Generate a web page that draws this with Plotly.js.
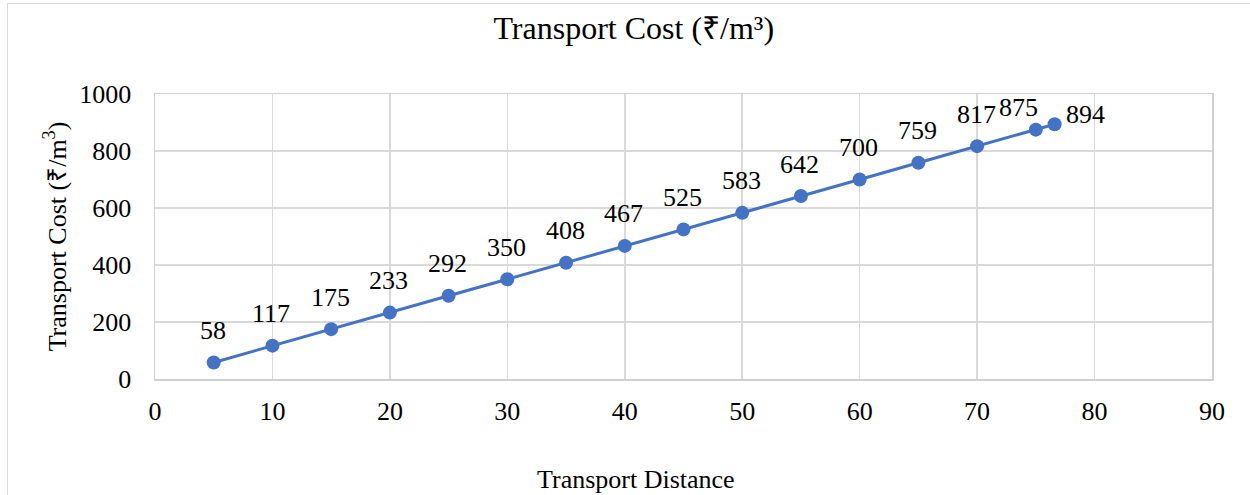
<!DOCTYPE html>
<html>
<head>
<meta charset="utf-8">
<script src="https://cdn.plot.ly/plotly-3.0.1.min.js"></script>
<style>
html,body{margin:0;padding:0;background:#fff;}
#chart{position:absolute;left:0;top:0;width:1250px;height:495px;}
#frame{position:absolute;left:7px;top:3px;width:1260px;height:520px;border:1.5px solid #d9d9d9;pointer-events:none;}
</style>
</head>
<body>
<div id="chart"></div>
<div id="frame"></div>
<script>
const distance = [5, 10, 15, 20, 25, 30, 35, 40, 45, 50, 55, 60, 65, 70, 75, 76.6];
const cost = [58, 117, 175, 233, 292, 350, 408, 467, 525, 583, 642, 700, 759, 817, 875, 894];
const chartTitle = 'Transport Cost (₹/m³)';
const xTitle = 'Transport Distance';
const yTitle = 'Transport Cost (₹/m<sup>3</sup>)';

const font = 'Liberation Serif, Times New Roman, serif';

const trace = {
  x: distance,
  y: cost,
  type: 'scatter',
  mode: 'lines+markers',
  line: {color: '#4472C4', width: 3},
  marker: {color: '#4472C4', size: 14},
  cliponaxis: false,
  hoverinfo: 'x+y'
};

const last = distance.length - 1;
const annotations = distance.map((d, i) => {
  let xs = -1, ys = 32, xa = 'center';
  if (i === last) { xs = 9; ys = 10; xa = 'left'; }
  else if (i === last - 1) { xs = -17; ys = 22; }
  return {
    x: d, y: cost[i], xref: 'x', yref: 'y',
    text: String(cost[i]),
    showarrow: false,
    font: {family: font, size: 26, color: '#000'},
    xanchor: xa, yanchor: 'middle',
    xshift: xs, yshift: ys
  };
});
annotations.push({
  x: 0.455, y: -0.354, xref: 'paper', yref: 'paper',
  text: xTitle, showarrow: false,
  font: {family: font, size: 26, color: '#000'},
  xanchor: 'center', yanchor: 'middle'
});

const layout = {
  width: 1250,
  height: 495,
  margin: {l: 155, r: 38, t: 94, b: 116},
  paper_bgcolor: '#fff',
  plot_bgcolor: '#fff',
  showlegend: false,
  font: {family: font, color: '#000'},
  annotations: annotations,
  title: {
    text: chartTitle,
    font: {family: font, size: 32, color: '#000'},
    x: 0.507, xanchor: 'center', xref: 'container',
    y: 0.943, yanchor: 'middle', yref: 'container'
  },
  xaxis: {
    range: [0, 90],
    dtick: 10,
    tick0: 0,
    showgrid: true,
    gridcolor: '#d9d9d9',
    gridwidth: 1.5,
    zeroline: false,
    showline: true,
    mirror: true,
    linecolor: '#d0d0d0',
    linewidth: 1.5,
    ticks: '',
    ticklabelstandoff: 8,
    tickfont: {family: font, size: 26, color: '#000'},
    automargin: false
  },
  yaxis: {
    range: [0, 1000],
    dtick: 200,
    tick0: 0,
    showgrid: true,
    gridcolor: '#d9d9d9',
    gridwidth: 1.5,
    zeroline: false,
    showline: true,
    mirror: true,
    linecolor: '#d0d0d0',
    linewidth: 1.5,
    ticks: '',
    ticklabelstandoff: 17,
    tickfont: {family: font, size: 26, color: '#000'},
    automargin: false,
    title: {
      text: yTitle,
      font: {family: font, size: 26, color: '#000'},
      standoff: 5
    }
  }
};

Plotly.newPlot('chart', [trace], layout, {displayModeBar: false, staticPlot: true});
</script>
</body>
</html>
